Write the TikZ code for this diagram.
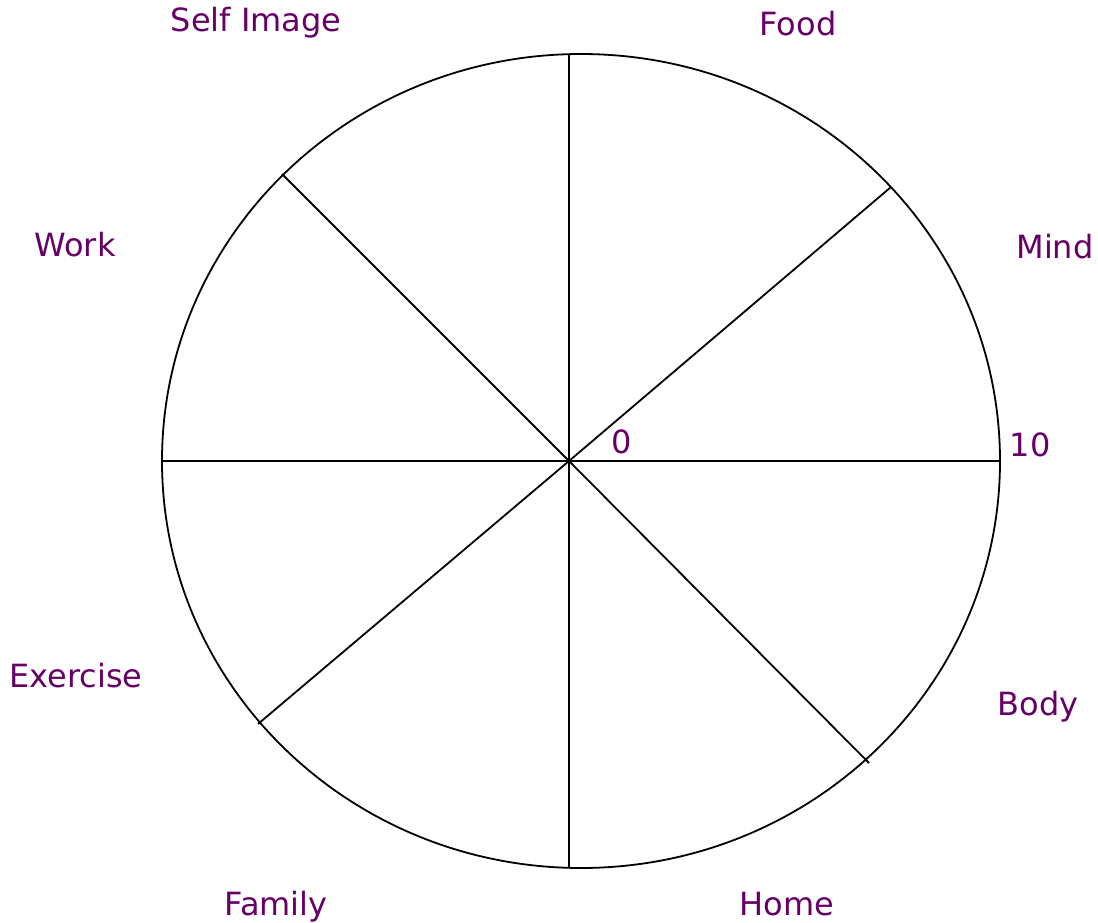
\documentclass[tikz,border=0pt]{standalone}
\usepackage{fontspec}
\setmainfont{DejaVu Sans}
\definecolor{lblpurple}{HTML}{660066}
\begin{document}
\begin{tikzpicture}[x=1pt,y=-1pt,
  spoke/.style={line width=1.8pt,black},
  rim/.style={line width=1.8pt,black},
  lbl/.style={text=lblpurple,font=\fontsize{32}{37}\selectfont,anchor=base,inner sep=0pt}]
\useasboundingbox (0,0) rectangle (1098,923);
\draw[rim] (581,461) ellipse [x radius=419, y radius=407];
\coordinate (c) at (569,461);
\coordinate (eN) at (569,54);
\coordinate (eS) at (569,868);
\coordinate (eW) at (162,461);
\coordinate (eE) at (1000,461);
\coordinate (eNE) at (891,187);
\coordinate (eSE) at (869,763);
\coordinate (eNW) at (282,174);
\coordinate (eSW) at (258,724);
\foreach \e in {eN,eS,eW,eE,eNE,eSE,eNW,eSW} \draw[spoke] (c) -- (\e);
\node[lbl] (selfimage) at (256,32) {Self Image};
\node[lbl] (food) at (798,36) {Food};
\node[lbl] (mind) at (1055,258) {Mind};
\node[lbl] (work) at (75,256) {Work};
\node[lbl] (zero) at (622,453) {0};
\node[lbl] (ten) at (1030,456) {10};
\node[lbl] (exercise) at (76,687) {Exercise};
\node[lbl] (body) at (1038,715) {Body};
\node[lbl] (family) at (276,915) {Family};
\node[lbl] (home) at (787,915) {Home};
\end{tikzpicture}
\end{document}
